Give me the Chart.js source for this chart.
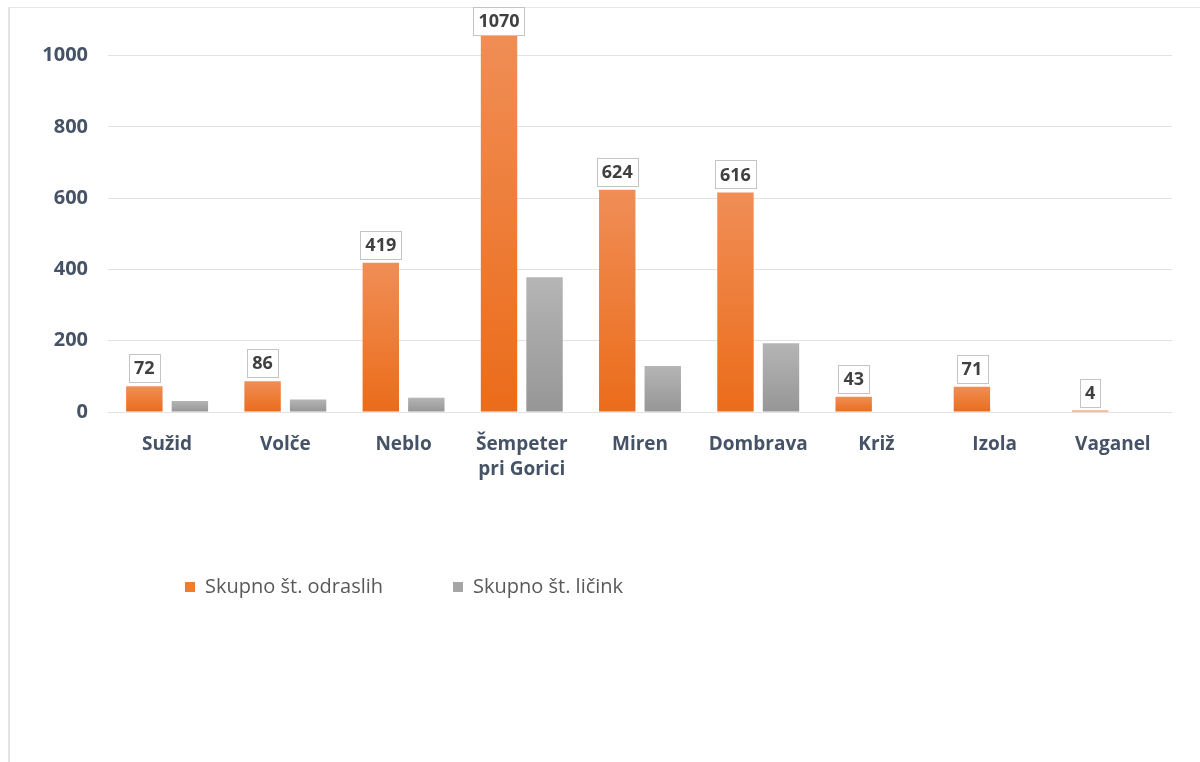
<!DOCTYPE html>
<html>
<head>
<meta charset="utf-8">
<script src="https://cdn.jsdelivr.net/npm/chart.js@4.4.1/dist/chart.umd.min.js"></script>
<style>
    html, body { margin: 0; padding: 0; background: #ffffff; }
    .wrap { position: relative; width: 1200px; height: 762px; overflow: hidden; }
    .frame { position: absolute; left: 8px; top: 7px; width: 1300px; height: 900px;
             border-left: 2px solid #e4e4e4; border-top: 1px solid #e8e8e8; }
    #chart { position: absolute; left: 0; top: 0; }
</style>
</head>
<body>
<div class="wrap">
    <div class="frame"></div>
    <canvas id="chart" width="1200" height="762"></canvas>
</div>
<script>
    // Podatki
    const lokacije = ['Sužid', 'Volče', 'Neblo', ['Šempeter', 'pri Gorici'], 'Miren', 'Dombrava', 'Križ', 'Izola', 'Vaganel'];
    const odrasli = [72, 86, 419, 1070, 624, 616, 43, 71, 4];
    const licinke = [31, 35, 40, 378, 129, 193, 0, 0, 0];
    const yTicks = [0, 200, 400, 600, 800, 1000];

    const labelColor = '#465366';
    const fontName = 'Open Sans';

    // Gradient za vsak stolpec posebej (svetlejši zgoraj)
    function barGradient(top, bottom, fallback) {
        return (context) => {
            const chart = context.chart;
            if (!chart.chartArea || context.type !== 'data') return fallback;
            const y = chart.scales.y;
            const yTop = y.getPixelForValue(context.raw);
            const yBase = y.getPixelForValue(0);
            if (yBase - yTop < 1) return bottom;
            const g = chart.ctx.createLinearGradient(0, yTop, 0, yBase);
            g.addColorStop(0, top);
            g.addColorStop(1, bottom);
            return g;
        };
    }

    // Oznake vrednosti v okvirčku nad oranžnimi stolpci
    const valueBoxes = {
        id: 'valueBoxes',
        afterDatasetsDraw(chart) {
            const ctx = chart.ctx;
            const meta = chart.getDatasetMeta(0);
            ctx.save();
            ctx.font = 'bold 18px "' + fontName + '"';
            ctx.textAlign = 'center';
            ctx.textBaseline = 'middle';
            meta.data.forEach((bar, i) => {
                const text = String(odrasli[i]);
                const w = ctx.measureText(text).width + 10;
                const h = 28;
                let top = bar.y - 4 - h;
                if (top < 7) top = 7;
                ctx.fillStyle = '#ffffff';
                ctx.fillRect(bar.x - w / 2, top, w, h);
                ctx.strokeStyle = '#c4c4c4';
                ctx.lineWidth = 1;
                ctx.strokeRect(Math.round(bar.x - w / 2) + 0.5, Math.round(top) + 0.5, Math.round(w), h);
                ctx.fillStyle = '#404040';
                ctx.fillText(text, bar.x, top + h / 2 + 1);
            });
            ctx.restore();
        }
    };

    // Legenda levo poravnana pod grafom
    const legendShift = {
        id: 'legendShift',
        afterLayout(chart) {
            chart.legend.left = 115;
        }
    };

    new Chart(document.getElementById('chart'), {
        type: 'bar',
        data: {
            labels: lokacije,
            datasets: [{
                label: 'Skupno št. odraslih',
                data: odrasli,
                backgroundColor: barGradient('#f08e56', '#eb6c1a', '#ed7d31'),
                legendColor: '#ed7d31'
            }, {
                label: 'Skupno št. ličink',
                data: licinke,
                backgroundColor: barGradient('#b5b5b5', '#969696', '#a5a5a5'),
                legendColor: '#a5a5a5'
            }]
        },
        options: {
            responsive: false,
            animation: false,
            layout: { padding: { left: 8, right: 28, top: 20, bottom: 155 } },
            datasets: {
                bar: { categoryPercentage: 0.77, barPercentage: 0.8 }
            },
            scales: {
                x: {
                    grid: { display: false },
                    border: { display: false },
                    ticks: {
                        color: labelColor,
                        font: { family: fontName, size: 19, weight: 'bold', lineHeight: 1.32 },
                        padding: 12,
                        maxRotation: 0,
                        autoSkip: false
                    },
                    afterFit: (scale) => { scale.height = 95; }
                },
                y: {
                    min: 0,
                    max: 1100,
                    border: { display: false },
                    grid: { color: '#e2e2e2', drawTicks: false },
                    afterBuildTicks: (scale) => {
                        scale.ticks = yTicks.map(v => ({ value: v }));
                    },
                    ticks: {
                        color: labelColor,
                        font: { family: fontName, size: 20, weight: 'bold' },
                        padding: 20,
                        callback: (v) => String(v)
                    },
                    afterFit: (scale) => {
                        scale.width = 100;
                        scale.paddingTop = 0;
                        scale.paddingBottom = 0;
                    }
                }
            },
            plugins: {
                tooltip: { enabled: false },
                legend: {
                    position: 'bottom',
                    align: 'start',
                    labels: {
                        boxWidth: 10,
                        boxHeight: 10,
                        padding: 70,
                        color: '#595959',
                        font: { family: fontName, size: 20 },
                        generateLabels: (chart) => chart.data.datasets.map((ds, i) => ({
                            text: ds.label,
                            fillStyle: ds.legendColor,
                            strokeStyle: ds.legendColor,
                            lineWidth: 0,
                            fontColor: '#595959',
                            datasetIndex: i
                        }))
                    }
                }
            }
        },
        plugins: [valueBoxes, legendShift]
    });
</script>
</body>
</html>
